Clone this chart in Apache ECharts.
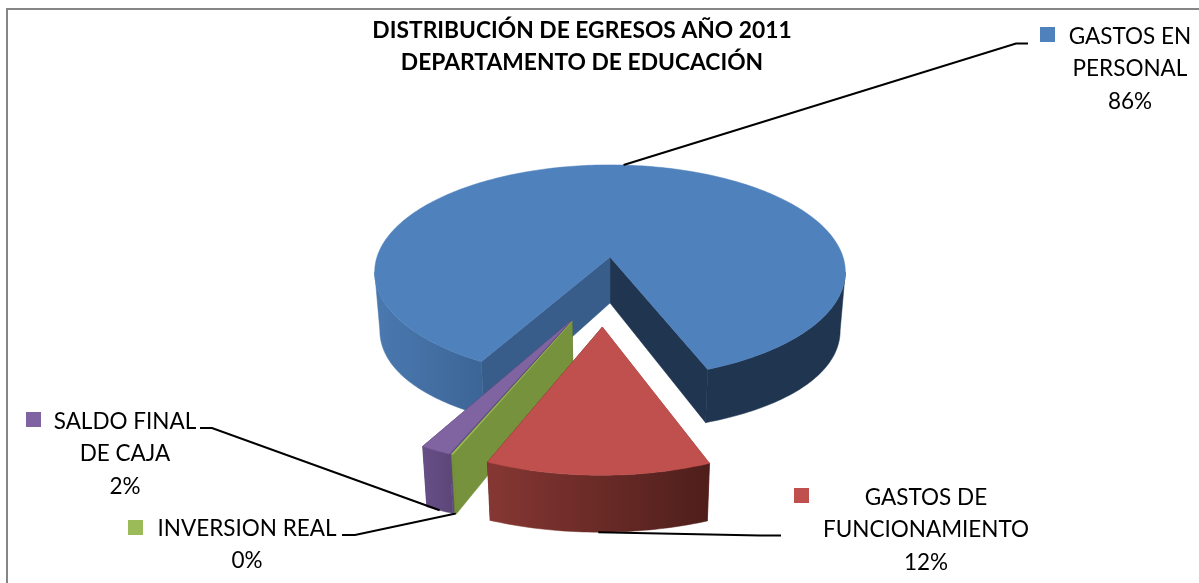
<!DOCTYPE html>
<html>
<head>
    <meta charset="utf-8">
    <title>Distribución de egresos 2011</title>
    <script src="https://cdn.jsdelivr.net/npm/echarts@6/dist/echarts.min.js"></script>
    <style>
        html, body { margin: 0; padding: 0; background: #fff; }
        #main { width: 1199px; height: 583px; }
    </style>
</head>
<body>
<div id="main"></div>
<script type="text/javascript">
    // datos
    var titleLines = ['DISTRIBUCIÓN DE EGRESOS AÑO 2011', 'DEPARTAMENTO DE EDUCACIÓN'];
    var categories = ['GASTOS EN\nPERSONAL', 'GASTOS DE\nFUNCIONAMIENTO', 'INVERSION REAL', 'SALDO FINAL\nDE CAJA'];
    var values = [86, 12.2, 0.1, 1.7];

    // colores por porcion
    var topColors = ['#4F81BD', '#C0504D', '#9BBB59', '#8064A2'];
    var startFaceColors = ['#385D8A', '#8C3836', '#76923C', '#5F497A'];
    var endFaceColors = ['#1F3550', '#4F1F1C', '#4F6228', '#3F3151'];
    var wallLeftColors = ['#4A79B0', '#863733', '#76923C', '#674F87'];
    var wallRightColors = ['#3C6596', '#4E1E1B', '#76923C', '#5C4678'];
    var blueBackWall = '#1F3550';

    // separacion de cada porcion (unidades del disco) y posicion de etiquetas
    var explode = [[0, 0], [-0.03, 0.61], [-0.15, 0.565], [-0.157, 0.565]];
    var keyPos = [[1040, 27], [794, 488], [128, 520], [26, 412]];
    var textPos = [[1130, 36], [926, 497], [247, 528], [125, 421]];
    var leaderEnd = [[[1016, 43.5], [1028, 43.5]], [[760, 535.5], [781, 535.5]], [[355, 535], [342, 535]], [[212, 428], [200, 428]]];
    var leaderDepth = [0, 1, 1, 1];
    var drawLevel = [1, 4, 3, 2];

    var startAngle = 209;
    var cx = 610, cy = 257, R = 233, Ry = 105, k = 0.14;
    // angulos donde la pared toca el borde visible del disco
    var sideLeft = 262, sideRight = 458;

    var total = values.reduce(function (a, b) { return a + b; }, 0);

    // proyecta un punto del disco a pantalla, depth=1 es la cara inferior
    function proj(u, v, depth) {
        var p = 1 / (1 - k * v);
        var x = cx + R * u * p;
        var y = cy + Ry * v * p;
        if (depth) {
            x = cx + (x - cx) * 0.978;
            y = y + 46 + 0.05 * (y - cy) + 12 * u * u;
        }
        return [x, y];
    }

    function rimPoint(i, deg, depth) {
        var a = deg * Math.PI / 180;
        return proj(explode[i][0] + Math.sin(a), explode[i][1] + Math.cos(a) * -1, depth);
    }

    function arc(i, a0, a1, depth) {
        var pts = [];
        var n = Math.max(2, Math.ceil(Math.abs(a1 - a0)));
        for (var j = 0; j <= n; j++) {
            pts.push(rimPoint(i, a0 + (a1 - a0) * j / n, depth));
        }
        return pts;
    }

    function poly(points, fill, level) {
        return {
            type: 'polygon',
            z2: level,
            shape: { points: points },
            style: { fill: fill, stroke: fill, lineWidth: 0.5 }
        };
    }

    function wall(i, a0, a1, fill, level) {
        return poly(arc(i, a0, a1, 0).concat(arc(i, a0, a1, 1).reverse()), fill, level);
    }

    function renderSlice(params, api) {
        var i = api.value(0);
        var before = 0;
        for (var n = 0; n < i; n++) {
            before += values[n];
        }
        var a0 = startAngle + before / total * 360;
        var a1 = a0 + api.value(1) / total * 360;
        var apex = proj(explode[i][0], explode[i][1], 0);
        var apexLow = proj(explode[i][0], explode[i][1], 1);
        var level = drawLevel[i] * 10;
        var kids = [];

        // caras de corte, primero la final y luego la inicial
        kids.push(poly([apex, rimPoint(i, a1, 0), rimPoint(i, a1, 1), apexLow], endFaceColors[i], level));
        kids.push(poly([apex, rimPoint(i, a0, 0), rimPoint(i, a0, 1), apexLow], startFaceColors[i], level + 1));

        var grad = new echarts.graphic.LinearGradient(0, 0, 1, 0, [
            { offset: 0, color: wallLeftColors[i] },
            { offset: 1, color: wallRightColors[i] }
        ]);
        if (i === 0) {
            // la porcion grande tiene la pared izquierda clara y la derecha oscura
            kids.push(wall(i, a0, sideLeft, grad, level + 2));
            kids.push(wall(i, sideRight, a1, blueBackWall, level + 2));
        } else {
            kids.push(wall(i, a0, a1, grad, level + 2));
        }
        kids.push(poly([apex].concat(arc(i, a0, a1, 0)), topColors[i], level + 3));

        // linea guia desde el centro del arco hasta la etiqueta
        var from = rimPoint(i, (a0 + a1) / 2, leaderDepth[i]);
        kids.push({
            type: 'polyline',
            z2: 100,
            shape: { points: [from].concat(leaderEnd[i]) },
            style: { fill: null, stroke: '#000', lineWidth: 2 }
        });
        return { type: 'group', children: kids };
    }

    var graphics = [{
        type: 'polyline',
        shape: { points: [[7, 583], [7, 9], [1199, 9]] },
        style: { fill: null, stroke: '#868686', lineWidth: 2 }
    }];
    categories.forEach(function (name, i) {
        graphics.push({
            type: 'rect',
            shape: { x: keyPos[i][0], y: keyPos[i][1], width: 15, height: 15 },
            style: { fill: topColors[i] }
        });
        graphics.push({
            type: 'text',
            style: {
                text: name + '\n' + Math.round(values[i] / total * 100) + '%',
                x: textPos[i][0],
                y: textPos[i][1] - 16,
                align: 'center',
                verticalAlign: 'top',
                lineHeight: 32.5,
                font: '22.5px Lato',
                fill: '#000'
            }
        });
    });

    var myChart = echarts.init(document.getElementById('main'), null, { renderer: 'canvas' });
    var option = {
        backgroundColor: '#fff',
        animation: false,
        title: {
            text: titleLines.join('\n'),
            left: 577,
            top: 10,
            textAlign: 'center',
            textStyle: { fontFamily: 'Lato', fontSize: 22.8, fontWeight: 'bold', color: '#000', lineHeight: 32 }
        },
        graphic: graphics,
        series: [{
            type: 'custom',
            coordinateSystem: 'none',
            silent: true,
            renderItem: renderSlice,
            data: values.map(function (v, i) { return [i, v]; })
        }]
    };
    myChart.setOption(option);
</script>
</body>
</html>
